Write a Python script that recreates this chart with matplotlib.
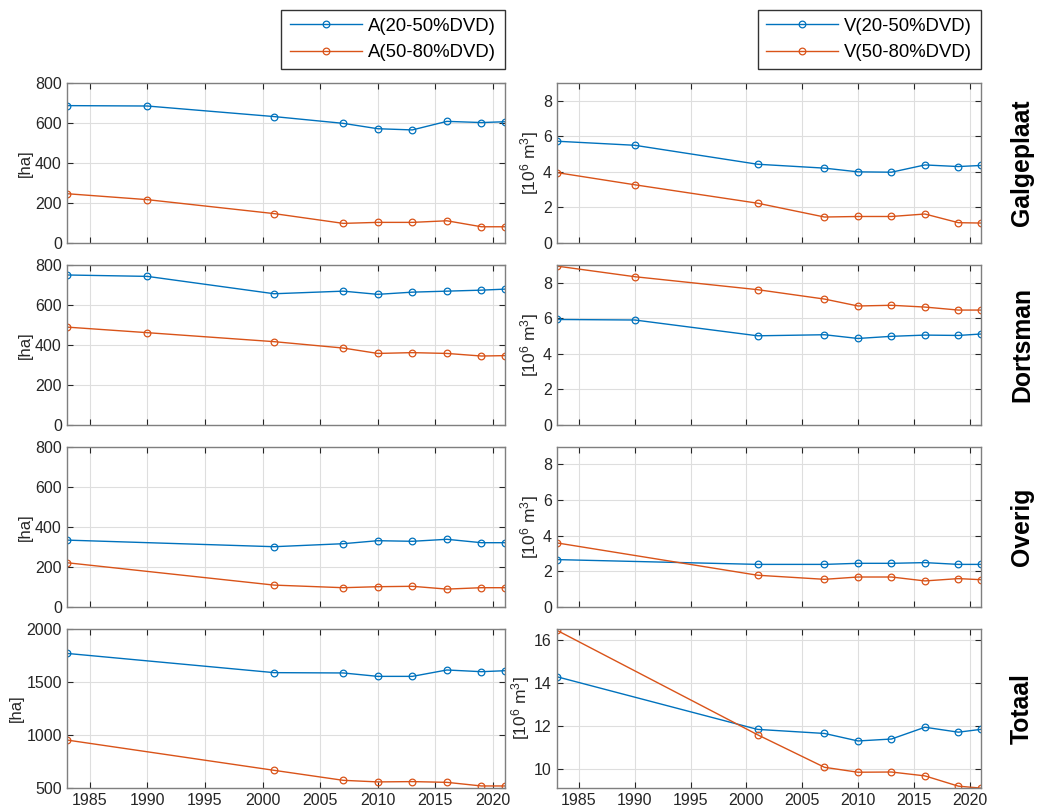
import matplotlib
matplotlib.use("Agg")
import matplotlib.pyplot as plt

plt.rcParams['font.family'] = ['Liberation Sans', 'DejaVu Sans']
plt.rcParams['mathtext.default'] = 'regular'

years = [1983, 1990, 2001, 2007, 2010, 2013, 2016, 2019, 2021]
years_overig = [1983, 2001, 2007, 2010, 2013, 2016, 2019, 2021]

regions = ['Galgeplaat', 'Dortsman', 'Overig', 'Totaal']

# Area [ha]
galg_A1 = [688, 686, 633, 599, 572, 566, 609, 603, 607]
galg_A2 = [246, 216, 146, 97, 102, 102, 110, 80, 80]
dort_A1 = [750, 743, 656, 669, 653, 664, 669, 674, 679]
dort_A2 = [489, 461, 416, 384, 357, 361, 357, 344, 346]
over_A1 = [333, 300, 315, 330, 327, 337, 320, 320]
over_A2 = [220, 108, 95, 100, 102, 88, 95, 95]
tot_A1 = [1768, 1587, 1584, 1552, 1552, 1612, 1596, 1605]
tot_A2 = [954, 669, 575, 560, 563, 556, 522, 522]

# Volume [10^6 m^3]
galg_V1 = [5.73, 5.50, 4.43, 4.21, 4.00, 3.98, 4.39, 4.30, 4.36]
galg_V2 = [3.96, 3.27, 2.23, 1.45, 1.48, 1.48, 1.62, 1.13, 1.11]
dort_V1 = [5.93, 5.90, 5.01, 5.07, 4.86, 4.98, 5.05, 5.03, 5.11]
dort_V2 = [8.94, 8.34, 7.61, 7.08, 6.69, 6.73, 6.63, 6.46, 6.46]
over_V1 = [2.65, 2.38, 2.38, 2.44, 2.44, 2.48, 2.38, 2.38]
over_V2 = [3.59, 1.77, 1.54, 1.67, 1.67, 1.45, 1.58, 1.52]
tot_V1 = [14.31, 11.85, 11.66, 11.31, 11.40, 11.95, 11.72, 11.85]
tot_V2 = [16.48, 11.60, 10.08, 9.85, 9.86, 9.68, 9.20, 9.11]

xticks = [1985, 1990, 1995, 2000, 2005, 2010, 2015, 2020]

C1 = '#0072BD'
C2 = '#D95319'
AX = '#262626'

fig = plt.figure(figsize=(10.39, 8.07), dpi=100)

W, H = 1039, 807
lx0, lx1 = 66.7, 504.5
rx0, rx1 = 556.7, 980.7
rows = [(83.3, 242.7), (265.0, 424.7), (446.7, 606.7), (628.7, 788.3)]

area_data = [(years, galg_A1, galg_A2), (years, dort_A1, dort_A2),
             (years_overig, over_A1, over_A2), (years_overig, tot_A1, tot_A2)]
vol_data = [(years, galg_V1, galg_V2), (years, dort_V1, dort_V2),
            (years_overig, over_V1, over_V2), (years_overig, tot_V1, tot_V2)]

area_ylims = [(0, 800), (0, 800), (0, 800), (500, 2000)]
area_yticks = [[0, 200, 400, 600, 800]] * 3 + [[500, 1000, 1500, 2000]]
vol_ylims = [(0, 9), (0, 9), (0, 9), (9.1, 16.55)]
vol_yticks = [[0, 2, 4, 6, 8]] * 3 + [[10, 12, 14, 16]]


def style(ax, last):
    ax.set_xlim(1983, 2021)
    ax.set_xticks(xticks)
    ax.grid(True, color='#dedede', linewidth=0.8)
    ax.set_axisbelow(True)
    for s in ax.spines.values():
        s.set_color('#7f7f7f')
        s.set_linewidth(1.0)
    ax.tick_params(direction='in', top=True, right=True, length=4,
                   color=AX, labelsize=11.5, labelcolor=AX)
    if not last:
        ax.tick_params(labelbottom=False)


mk = dict(mfc='none', ms=4.8, lw=1.0, mew=0.9)
lines_A = None
lines_V = None
for i, (t, b) in enumerate(rows):
    last = i == 3
    axl = fig.add_axes([lx0 / W, 1 - b / H, (lx1 - lx0) / W, (b - t) / H])
    x, y1, y2 = area_data[i]
    la1, = axl.plot(x, y1, '-o', color=C1, label='A(20-50%DVD)', **mk)
    la2, = axl.plot(x, y2, '-o', color=C2, label='A(50-80%DVD)', **mk)
    axl.set_ylim(*area_ylims[i])
    axl.set_yticks(area_yticks[i])
    axl.set_ylabel('[ha]', fontsize=12, color=AX, labelpad=1.5)
    style(axl, last)

    axr = fig.add_axes([rx0 / W, 1 - b / H, (rx1 - rx0) / W, (b - t) / H])
    x, y1, y2 = vol_data[i]
    lv1, = axr.plot(x, y1, '-o', color=C1, label='V(20-50%DVD)', **mk)
    lv2, = axr.plot(x, y2, '-o', color=C2, label='V(50-80%DVD)', **mk)
    axr.set_ylim(*vol_ylims[i])
    axr.set_yticks(vol_yticks[i])
    axr.set_ylabel('[10$^6$ m$^3$]', fontsize=12.5, color=AX, labelpad=1.5)
    style(axr, last)

    fig.text(1022 / W, 1 - (t + b) / 2 / H, regions[i], rotation=90,
             fontsize=17.8, fontweight='bold', ha='center', va='center')

    if i == 0:
        lines_A = [la1, la2]
        lines_V = [lv1, lv2]

for handles, xr in ((lines_A, 504.5), (lines_V, 980.7)):
    leg = fig.legend(handles=handles, loc='upper right',
                     bbox_to_anchor=(xr / W, 1 - 9.5 / H), fontsize=13.3,
                     frameon=True, fancybox=False, edgecolor='#000000',
                     borderaxespad=0, handlelength=3.9, labelspacing=0.5,
                     borderpad=0.45, handletextpad=0.35)
    leg.get_frame().set_linewidth(1.0)

fig.savefig('out.png', dpi=100)
